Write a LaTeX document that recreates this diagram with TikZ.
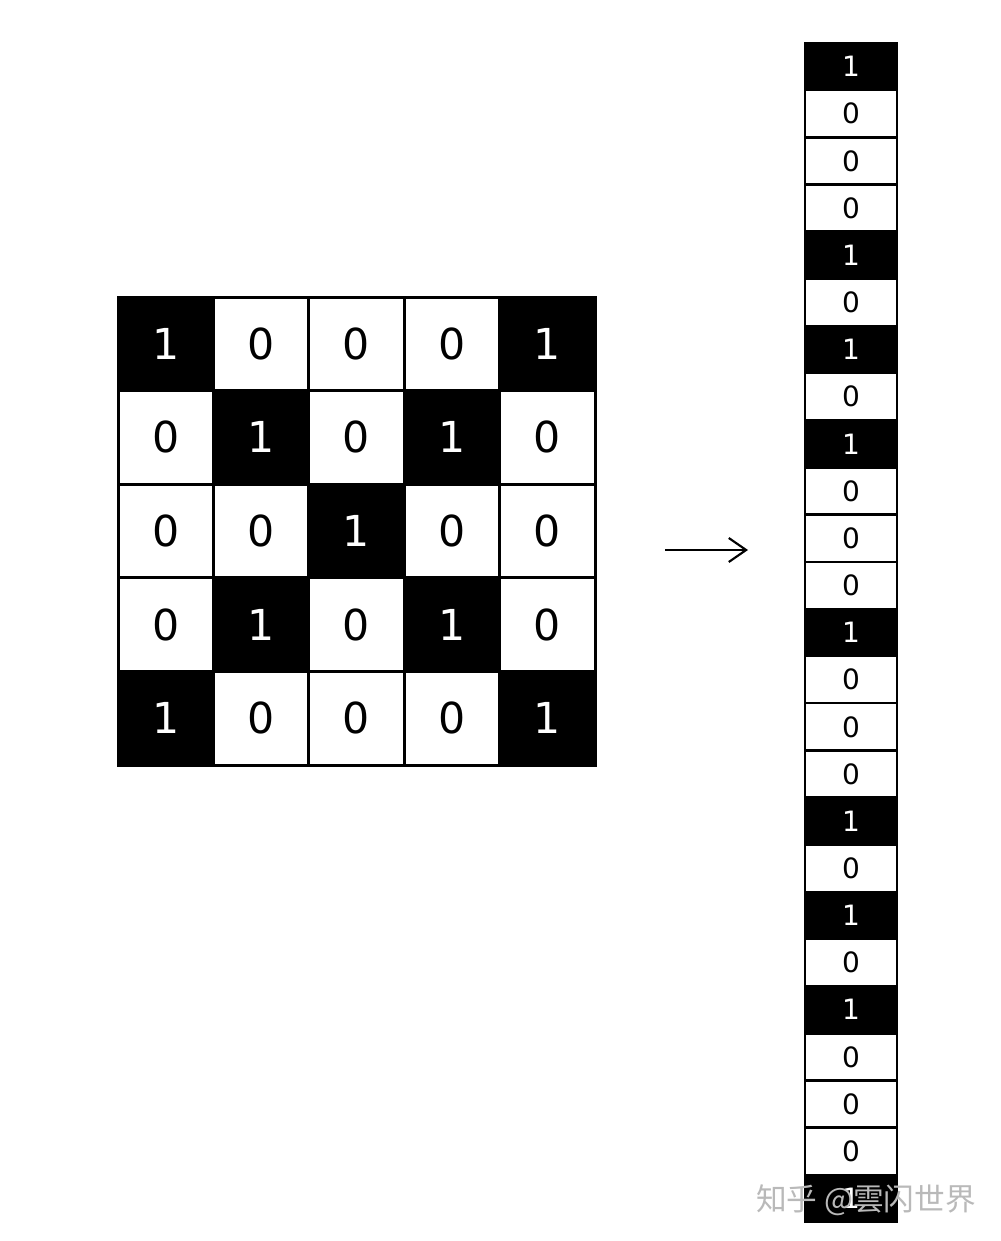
\documentclass[tikz,border=0pt]{standalone}
\usepackage{fontspec}
\setmainfont{DejaVu Sans}
\newfontfamily\cjk{Noto Sans CJK SC}
\usetikzlibrary{arrows.meta}
\tikzset{
  gcell/.style={draw=black, line width=2.25pt, minimum width=71.55pt, minimum height=70.2pt, inner sep=0pt, font=\fontsize{32}{32}\selectfont},
  ccell/.style={draw=black, line width=1.8pt, minimum width=69pt, minimum height=35.37pt, inner sep=0pt, font=\fontsize{21}{21}\selectfont},
  one/.style={fill=black, text=white},
  zero/.style={fill=white, text=black},
  flow/.style={line width=1.6pt, -{Straight Barb[length=13pt,width=18pt,line width=1.6pt]}},
  wmark/.style={text=gray!55, font=\cjk\fontsize{23}{23}\selectfont}
}
\begin{document}
\begin{tikzpicture}[x=0.75pt,y=-0.75pt]
\useasboundingbox[fill=white] (0,0) rectangle (1000,1241);
% 5x5 grid
\foreach \v [count=\i from 0] in {1,0,0,0,1, 0,1,0,1,0, 0,0,1,0,0, 0,1,0,1,0, 1,0,0,0,1} {
  \pgfmathtruncatemacro\r{int(\i/5)}
  \pgfmathtruncatemacro\c{mod(\i,5)}
  \ifnum\v=1
    \node[gcell,one] (g-\r-\c) at ({118+95.4*(\c+0.5)},{297+93.6*(\r+0.5)}) {\v};
  \else
    \node[gcell,zero] (g-\r-\c) at ({118+95.4*(\c+0.5)},{297+93.6*(\r+0.5)}) {\v};
  \fi
}
% flattened column
\foreach \v [count=\i from 0] in {1,0,0,0,1,0,1,0,1,0,0,0,1,0,0,0,1,0,1,0,1,0,0,0,1} {
  \ifnum\v=1
    \node[ccell,one] (c-\i) at (851,{43+47.16*(\i+0.5)}) {\v};
  \else
    \node[ccell,zero] (c-\i) at (851,{43+47.16*(\i+0.5)}) {\v};
  \fi
}
% arrow
\coordinate (a1) at (665,550);
\coordinate (a2) at (748,550);
\draw[flow] (a1) -- (a2);
% watermark
\node[wmark] (wm) at (866,1200) {知乎 @雲闪世界};
\end{tikzpicture}
\end{document}
